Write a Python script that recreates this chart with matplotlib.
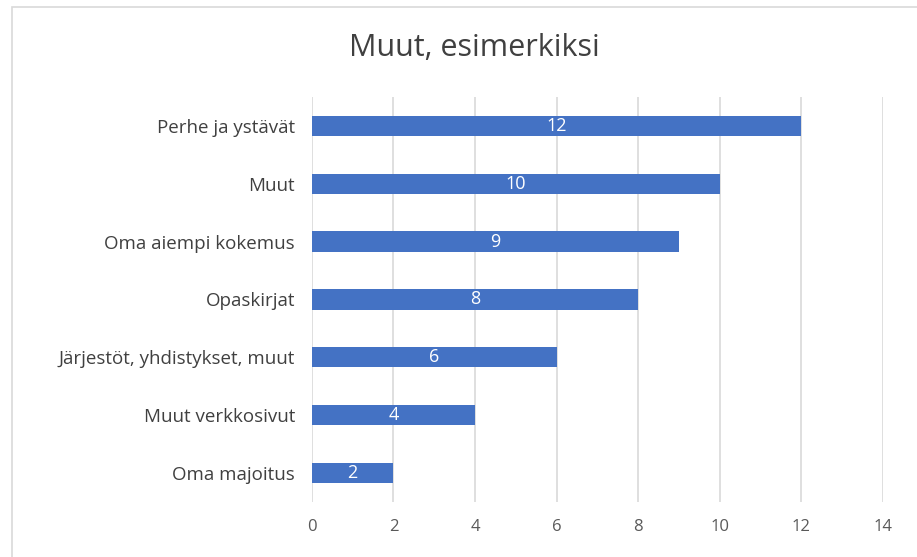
import matplotlib.pyplot as plt
from matplotlib.patches import Rectangle

plt.rcParams['font.family'] = ['Open Sans', 'DejaVu Sans']

categories = ["Perhe ja ystävät", "Muut", "Oma aiempi kokemus", "Opaskirjat",
              "Järjestöt, yhdistykset, muut", "Muut verkkosivut", "Oma majoitus"]
values = [12, 10, 9, 8, 6, 4, 2]
xticks = [0, 2, 4, 6, 8, 10, 12, 14]

fig = plt.figure(figsize=(9.17, 5.57), dpi=100)
ax = fig.add_axes([0.340, 0.099, 0.623, 0.727])

# frame around the chart
fig.patches.append(Rectangle((0.013, -0.01), 1.0, 0.997, transform=fig.transFigure,
                             fill=False, edgecolor="#d9d9d9", linewidth=1.2))

ypos = list(range(len(categories)))
bars = ax.barh(ypos, values, height=0.35, color="#4472C4", zorder=3)
for y, v in zip(ypos, values):
    ax.text(v / 2, y, str(v), color="white", ha="center", va="center", fontsize=13, zorder=4)

ax.set_yticks(ypos)
ax.set_yticklabels(categories, fontsize=13.5, color="#404040")
ax.set_ylim(len(categories) - 0.5, -0.5)
ax.set_xlim(0, 14)
ax.set_xticks(xticks)
ax.tick_params(axis="x", colors="#595959", labelsize=12, length=0, pad=12)
ax.tick_params(axis="y", length=0, pad=12)
ax.grid(axis="x", color="#d9d9d9", linewidth=1.2, zorder=0)
for s in ax.spines.values():
    s.set_visible(False)

fig.text(0.517, 0.914, "Muut, esimerkiksi", ha="center", va="center", fontsize=22, color="#404040")

plt.savefig("out.png")
